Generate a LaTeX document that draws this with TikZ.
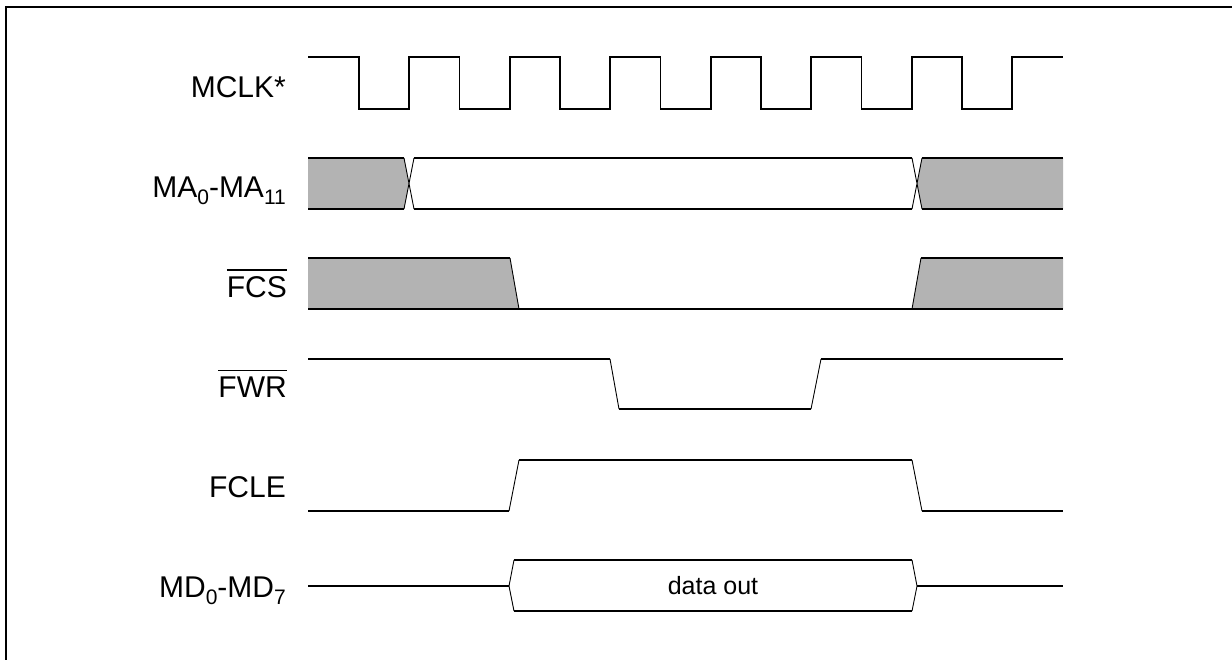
\documentclass[tikz,border=0pt]{standalone}
\usepackage{fontspec}
\setmainfont{Liberation Sans}
\definecolor{dcgray}{RGB}{179,179,179}
\newcommand{\lowidx}[1]{\raisebox{-0.24em}{\fontsize{21}{24}\selectfont #1}}
\newcommand{\barsig}[1]{\leavevmode\vbox{\hrule height 1.3pt\kern 5.5pt\hbox{#1}}}
\usetikzlibrary{calc}

\begin{document}
\begin{tikzpicture}[x=1pt, y=-1pt,
  sig/.style={line width=1.6pt},
  edge/.style={line width=0.9pt},
  lbl/.style={anchor=base east, inner sep=0pt, font=\fontsize{30}{36}\selectfont}]
  \useasboundingbox (0,0) rectangle (1232,659);
  % frame
  \draw[line width=1.6pt] (6,700) -- (6,7) -- (1260,7);
  % labels
  \node[lbl] (mclk) at (286,97) {MCLK*};
  \node[lbl] (ma) at (286,197) {MA\lowidx{0}-MA\lowidx{11}};
  \node[lbl] (fcs) at (287,297) {\barsig{FCS}};
  \node[lbl] (fwr) at (287,397) {\barsig{FWR}};
  \node[lbl] (fcle) at (286,497) {FCLE};
  \node[lbl] (md) at (286,597) {MD\lowidx{0}-MD\lowidx{7}};
  % clock
  \draw[sig] (308,57) -- (359,57)
    foreach \i in {0,...,6} { -- ++(0,52) -- ++(50.25,0) -- ++(0,-52) -- ++(50.25,0) };
  % address
  \fill[dcgray] (308,158) -- (404,158) -- (409,184) -- (404,209) -- (308,209) -- cycle;
  \fill[dcgray] (1063,158) -- (922,158) -- (917,184) -- (922,209) -- (1063,209) -- cycle;
  \draw[sig] (308,158) -- (404,158) (414,158) -- (912,158) (922,158) -- (1063,158);
  \draw[sig] (308,209) -- (404,209) (414,209) -- (912,209) (922,209) -- (1063,209);
  \draw[edge] (404,158) -- (414,209) (404,209) -- (414,158);
  \draw[edge] (912,158) -- (922,209) (912,209) -- (922,158);
  % chip select
  \fill[dcgray] (308,258) -- (510,258) -- (519,309) -- (308,309) -- cycle;
  \fill[dcgray] (912,309) -- (921,258) -- (1063,258) -- (1063,309) -- cycle;
  \draw[sig] (308,258) -- (510,258) (921,258) -- (1063,258) (308,309) -- (1063,309);
  \draw[edge] (510,258) -- (519,309) (912,309) -- (921,258);
  % write
  \draw[sig] (308,359) -- (610,359) (619,409) -- (811,409) (821,359) -- (1063,359);
  \draw[edge] (610,359) -- (619,409) (811,409) -- (821,359);
  % latch enable
  \draw[sig] (308,511) -- (509,511) (519,460) -- (912,460) (922,511) -- (1063,511);
  \draw[edge] (509,511) -- (519,460) (912,460) -- (922,511);
  % data
  \draw[sig] (308,586) -- (509,586) (917,586) -- (1063,586) (514,560) -- (912,560) (514,611) -- (912,611);
  \draw[edge] (514,560) -- (509,586) -- (514,611) (912,560) -- (917,586) -- (912,611);
  \node[font=\fontsize{25}{30}\selectfont, inner sep=0pt] (dout) at (713,586) {data out};
\end{tikzpicture}
\end{document}
